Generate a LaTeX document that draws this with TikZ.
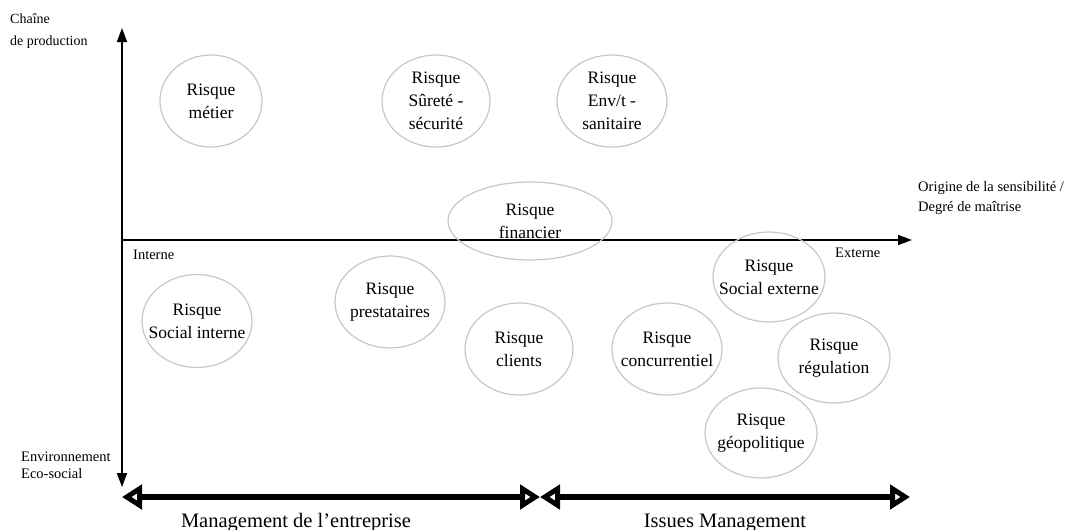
\documentclass[tikz,border=0pt]{standalone}
\usepackage{fontspec}
\setmainfont{Liberation Serif}
\usetikzlibrary{arrows.meta,shapes.geometric}
\begin{document}
\begin{tikzpicture}[x=1pt,y=-1pt,
  risk/.style={ellipse, draw=black!22, line width=1.2pt, inner sep=0pt},
  risktext/.style={align=center, font=\fontsize{17.5}{23}\selectfont, inner sep=0pt},
  small/.style={align=left, inner sep=0pt, anchor=base west},
  axis/.style={line width=1.8pt, draw=black},
  band/.style={line width=6pt, {Triangle[open,length=20pt,width=24pt]}-{Triangle[open,length=20pt,width=24pt]}},
  bandlabel/.style={font=\fontsize{20.5}{24}\selectfont, anchor=base, inner sep=0pt}
]
\useasboundingbox (0,0) rectangle (1074,530);
% axes
\coordinate (vtop) at (122,28);
\coordinate (vbot) at (122,487);
\coordinate (orig) at (122,240);
\coordinate (hend) at (912,240);
\draw[axis, {Triangle[length=14pt,width=10pt]}-{Triangle[length=14pt,width=10pt]}] (vbot) -- (vtop);
\draw[axis, -{Triangle[length=14pt,width=10pt]}] (orig) -- (hend);
% bottom bands
\coordinate (bl) at (122,497);
\coordinate (bm) at (540,497);
\coordinate (br) at (910,497);
\draw[band] (bl) -- (bm);
\draw[band] (bm) -- (br);
\node[bandlabel] (mgt) at (296,527) {Management de l’entreprise};
\node[bandlabel] (issues) at (725,527) {Issues Management};
% axis labels
\node[small, font=\fontsize{14}{21}\selectfont] (chaine) at (10,45) {Chaîne\\de production};
\node[small, font=\fontsize{14.5}{20}\selectfont] (origine) at (918,211) {Origine de la sensibilité /\\Degré de maîtrise};
\node[small, font=\fontsize{14.5}{17}\selectfont] (envir) at (21,478) {Environnement\\Eco-social};
\node[small, font=\fontsize{14.5}{17}\selectfont] (interne) at (133,259) {Interne};
\node[small, font=\fontsize{14.5}{17}\selectfont] (externe) at (835,257) {Externe};
% risk ellipses
\node[risk, minimum width=102pt, minimum height=92pt] (metier) at (211,101) {};
\node[risktext] at (metier) {Risque\\métier};
\node[risk, minimum width=108pt, minimum height=92pt] (surete) at (436,101) {};
\node[risktext] at (surete) {Risque\\Sûreté -\\sécurité};
\node[risk, minimum width=110pt, minimum height=92pt] (envt) at (612,101) {};
\node[risktext] at (envt) {Risque\\Env/t -\\sanitaire};
\node[risk, minimum width=164pt, minimum height=78pt] (fin) at (530,221) {};
\node[risktext] at (fin) {Risque\\financier};
\node[risk, minimum width=112pt, minimum height=90pt] (socext) at (769,277) {};
\node[risktext] at (socext) {Risque\\Social externe};
\node[risk, minimum width=110pt, minimum height=93pt] (socint) at (197,321) {};
\node[risktext] at (socint) {Risque\\Social interne};
\node[risk, minimum width=110pt, minimum height=92pt] (prest) at (390,302) {};
\node[risktext] at (prest) {Risque\\prestataires};
\node[risk, minimum width=108pt, minimum height=92pt] (clients) at (519,349) {};
\node[risktext] at (clients) {Risque\\clients};
\node[risk, minimum width=110pt, minimum height=92pt] (conc) at (667,349) {};
\node[risktext] at (conc) {Risque\\concurrentiel};
\node[risk, minimum width=112pt, minimum height=90pt] (regul) at (834,358) {};
\node[risktext] at (regul) {Risque\\régulation};
\node[risk, minimum width=112pt, minimum height=90pt] (geo) at (761,433) {};
\node[risktext] at (geo) {Risque\\géopolitique};
\end{tikzpicture}
\end{document}
